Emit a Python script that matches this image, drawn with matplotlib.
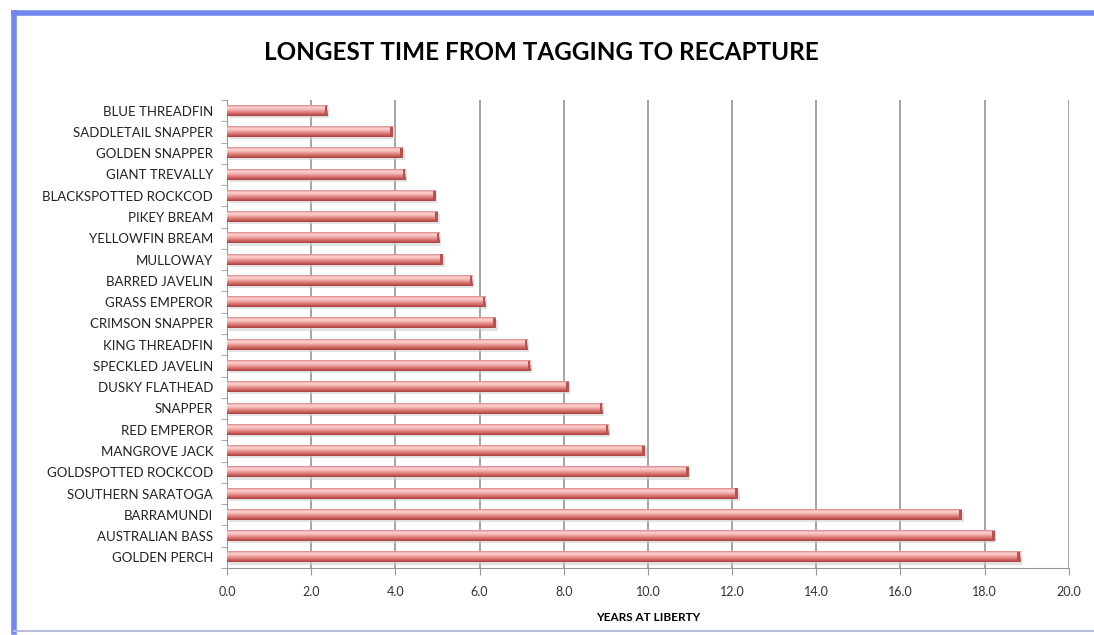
import numpy as np
import matplotlib.pyplot as plt
from matplotlib.colors import LinearSegmentedColormap
from matplotlib.patches import Rectangle

species = [
    "BLUE THREADFIN", "SADDLETAIL SNAPPER", "GOLDEN SNAPPER", "GIANT TREVALLY",
    "BLACKSPOTTED ROCKCOD", "PIKEY BREAM", "YELLOWFIN BREAM", "MULLOWAY",
    "BARRED JAVELIN", "GRASS EMPEROR", "CRIMSON SNAPPER", "KING THREADFIN",
    "SPECKLED JAVELIN", "DUSKY FLATHEAD", "SNAPPER", "RED EMPEROR",
    "MANGROVE JACK", "GOLDSPOTTED ROCKCOD", "SOUTHERN SARATOGA", "BARRAMUNDI",
    "AUSTRALIAN BASS", "GOLDEN PERCH",
]
years = [
    2.38, 3.94, 4.18, 4.23, 4.96, 5.01, 5.04, 5.13, 5.83, 6.14, 6.39,
    7.13, 7.21, 8.12, 8.91, 9.06, 9.93, 10.97, 12.14, 17.46, 18.24, 18.84,
]
x_ticks = np.arange(0, 20.1, 2.0)

plt.rcParams['font.family'] = ['Lato', 'DejaVu Sans']

fig = plt.figure(figsize=(10.94, 6.35), dpi=100)
ax = fig.add_axes([0.2075, 0.1055, 0.7695, 0.737])

# cylinder-style shading, top to bottom
bar_cmap = LinearSegmentedColormap.from_list(
    "bar", ["#d98684", "#fbd3d1", "#f6b7b5", "#e48a88", "#cc625f", "#a9403e"])
grad = np.linspace(0, 1, 64).reshape(-1, 1)
h = 0.48
pos = np.arange(len(species))
for y, v in zip(pos, years):
    # soft drop shadow
    ax.add_patch(Rectangle((0.04, y - h / 2 + 0.1), v, h, color="#d0d0d0",
                           alpha=0.6, zorder=2, lw=0))
    ax.imshow(grad, cmap=bar_cmap, aspect="auto",
              extent=(0, v, y + h / 2, y - h / 2), zorder=3)
    ax.add_patch(Rectangle((v - 0.06, y - h / 2), 0.06, h, color="#b85250",
                           zorder=4, lw=0))

ax.set_xlim(0, 20)
ax.set_ylim(len(species) - 0.5, -0.5)
ax.set_xticks(x_ticks)
ax.set_xticklabels([f"{t:.1f}" for t in x_ticks], fontsize=9, color="#333333")
ax.set_yticks(pos)
ax.set_yticklabels(species, fontsize=9.5, color="#222222")
ax.set_yticks(np.arange(len(species) + 1) - 0.5, minor=True)
ax.tick_params(axis="y", which="major", length=0, pad=10)
ax.tick_params(axis="y", which="minor", length=4, color="#999999", direction="out")
ax.tick_params(axis="x", length=5, color="#999999", pad=8)
ax.grid(axis="x", color="#8c8c8c", lw=1.1, zorder=1)
ax.set_axisbelow(True)
for side in ("top", "right"):
    ax.spines[side].set_visible(False)
for side in ("left", "bottom"):
    ax.spines[side].set_color("#999999")
ax.set_xlabel("YEARS AT LIBERTY", fontsize=8.5, fontweight="bold", labelpad=10)

fig.text(0.495, 0.917, "LONGEST TIME FROM TAGGING TO RECAPTURE", ha="center",
         va="center", fontsize=17.5, fontweight="bold")

# chart frame: blue top/left, light bottom
fig.add_artist(plt.Line2D([0.0125, 1.0], [0.980, 0.980], color="#6f87ef", lw=4))
fig.add_artist(plt.Line2D([0.0125, 0.0125], [0.005, 0.980], color="#6f87ef", lw=4))
fig.add_artist(plt.Line2D([0.0125, 1.0], [0.006, 0.006], color="#b8bde0", lw=1.5))

fig.savefig("out.png", dpi=100)
